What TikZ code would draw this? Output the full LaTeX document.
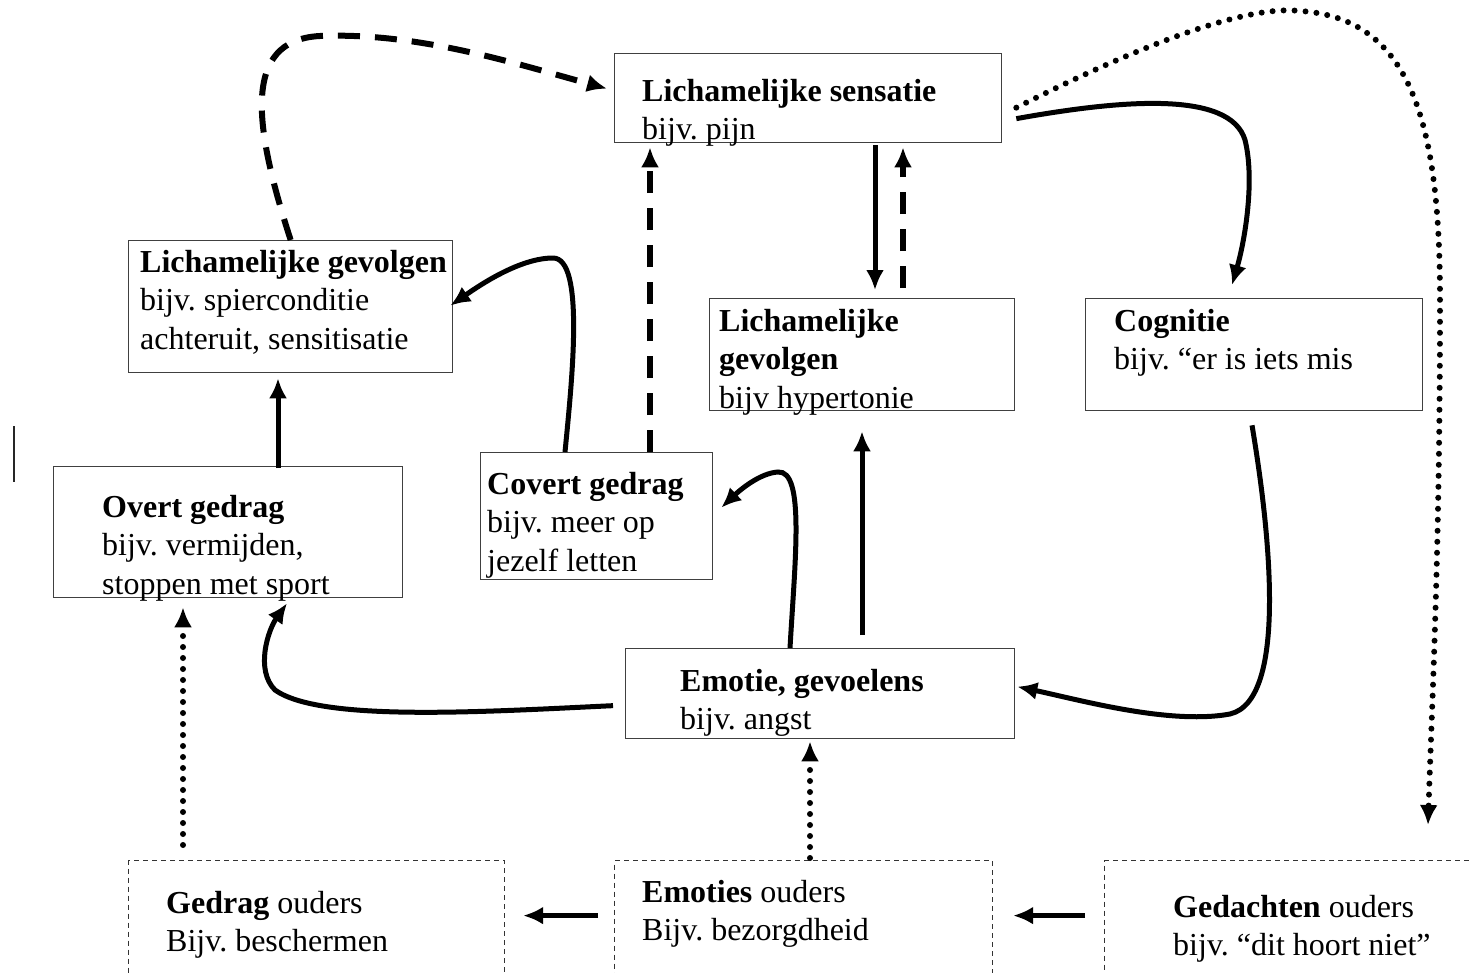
\documentclass[tikz,border=0pt]{standalone}
\usepackage{fontspec}
\setmainfont{Liberation Serif}
\usetikzlibrary{arrows.meta}
\frenchspacing

\begin{document}
\begin{tikzpicture}[x=1pt,y=-1pt,
    box/.style={draw=black!75,line width=1.3pt,inner sep=0pt,anchor=north west},
    parent/.style={box,draw=black!80,line width=1.2pt,dash pattern=on 5pt off 4pt},
    txt/.style={anchor=base west,align=left,inner sep=0pt,font=\fontsize{32}{38.5}\selectfont},
    move/.style={-{Latex[length=20pt,width=18pt]},line width=5pt,draw},
    back/.style={move,line width=6pt,dash pattern=on 22pt off 15pt},
    hint/.style={move,line width=6pt,line cap=round,dash pattern=on 0pt off 11pt}]

    \clip (0,0) rectangle (1472,972);

    \node[box,minimum width=387pt,minimum height=89pt] (sensatie) at (614,53) {};
    \node[box,minimum width=324pt,minimum height=132pt] (gevolgenL) at (128,240) {};
    \node[box,minimum width=305pt,minimum height=112pt] (gevolgenM) at (709,298) {};
    \node[box,minimum width=337pt,minimum height=112pt] (cognitie) at (1085,298) {};
    \node[box,minimum width=349pt,minimum height=131pt] (overt) at (53,466) {};
    \node[box,minimum width=232pt,minimum height=127pt] (covert) at (480,452) {};
    \node[box,minimum width=389pt,minimum height=90pt] (emotie) at (625,648) {};
    \node[parent,minimum width=376pt,minimum height=140pt] (gedrag) at (128,860) {};
    \node[parent,minimum width=378pt,minimum height=140pt] (emoties) at (614,860) {};
    \node[parent,minimum width=400pt,minimum height=140pt] (gedachten) at (1104,860) {};

    % base = baseline of the last line
    \node[txt] (sensatie-t) at (642,139.5) {\textbf{Lichamelijke sensatie}\\bijv. pijn};
    \node[txt] (gevolgenL-t) at (140,349) {\textbf{Lichamelijke gevolgen}\\bijv. spierconditie\\achteruit, sensitisatie};
    \node[txt] (gevolgenM-t) at (719,408) {\textbf{Lichamelijke}\\\textbf{gevolgen}\\bijv hypertonie};
    \node[txt] (cognitie-t) at (1114,369.5) {\textbf{Cognitie}\\bijv. “er is iets mis};
    \node[txt] (overt-t) at (102,594) {\textbf{Overt gedrag}\\bijv. vermijden,\\stoppen met sport};
    \node[txt] (covert-t) at (487,571) {\textbf{Covert gedrag}\\bijv. meer op\\jezelf letten};
    \node[txt] (emotie-t) at (680,729.5) {\textbf{Emotie, gevoelens}\\bijv. angst};
    \node[txt] (gedrag-t) at (166,951.5) {\textbf{Gedrag} ouders\\Bijv. beschermen};
    \node[txt] (emoties-t) at (642,940.5) {\textbf{Emoties} ouders\\Bijv. bezorgdheid};
    \node[txt] (gedachten-t) at (1173,955.5) {\textbf{Gedachten} ouders\\bijv. “dit hoort niet”};

    \draw[line width=2pt,black!85] (14,426) -- (14,482);

    \path[back] (gevolgenL.north) .. controls (255,130) and (240,40) .. (320,36)
        .. controls (420,32) and (520,65) .. ([xshift=-7pt,yshift=9.5pt]sensatie.west);
    \path[back] ([xshift=170pt]covert.north west) -- ([xshift=36pt,yshift=-4pt]sensatie.south west);
    \path[move] ([xshift=261pt,yshift=-2pt]sensatie.south west) -- ([xshift=166pt,yshift=8pt]gevolgenM.north west);
    \path[back] ([xshift=194pt,yshift=10pt]gevolgenM.north west) -- ([xshift=289pt,yshift=-4pt]sensatie.south west);
    \path[move] ([xshift=14pt,yshift=-20.5pt]sensatie.east) .. controls (1120,100) and (1230,90) .. (1245,140)
        .. controls (1255,180) and (1245,240) .. ([xshift=147pt,yshift=13pt]cognitie.north west);
    \path[hint] ([xshift=14pt,yshift=-9.5pt]sensatie.east) .. controls (1150,40) and (1250,5) .. (1300,11)
        .. controls (1410,18) and (1440,120) .. (1440,300)
        .. controls (1440,550) and (1432,700) .. ([xshift=324pt,yshift=35pt]gedachten.north west);

    \path[move] ([xshift=85pt]covert.north west) .. controls (572,380) and (585,258) .. (553,258)
        .. controls (520,258) and (480,285) .. ([xshift=-3pt,yshift=1pt]gevolgenL.east);
    \path[move] ([xshift=225pt,yshift=-2pt]overt.north west) -- ([xshift=150pt,yshift=-5pt]gevolgenL.south west);

    \path[move] ([xshift=167pt,yshift=-14pt]cognitie.south west) .. controls (1268,520) and (1290,700) .. (1230,714)
        .. controls (1170,725) and (1080,700) .. ([xshift=2pt,yshift=7pt]emotie.east);
    \path[move] ([xshift=237pt,yshift=13pt]emotie.north west) -- ([xshift=153pt,yshift=-20pt]gevolgenM.south west);
    \path[move] ([xshift=165pt]emotie.north west) .. controls (795,560) and (805,470) .. (778,472)
        .. controls (760,473) and (740,490) .. ([xshift=8pt,yshift=8.5pt]covert.east);
    \path[move] ([xshift=-12pt,yshift=-12pt]emotie.west) .. controls (480,712) and (320,722) .. (275,690)
        .. controls (255,670) and (268,630) .. ([xshift=234pt,yshift=-5pt]overt.south west);

    \path[hint] ([xshift=55pt,yshift=15pt]gedrag.north west) -- ([xshift=130pt,yshift=-9pt]overt.south west);
    \path[hint] ([xshift=196pt,yshift=2pt]emoties.north west) -- ([xshift=185pt,yshift=-2pt]emotie.south west);
    \path[move] ([xshift=-16pt,yshift=15pt]emoties.west) -- ([xshift=18pt,yshift=15pt]gedrag.east);
    \path[move] ([xshift=-19pt,yshift=15pt]gedachten.west) -- ([xshift=20pt,yshift=15pt]emoties.east);

  \end{tikzpicture}
\end{document}
